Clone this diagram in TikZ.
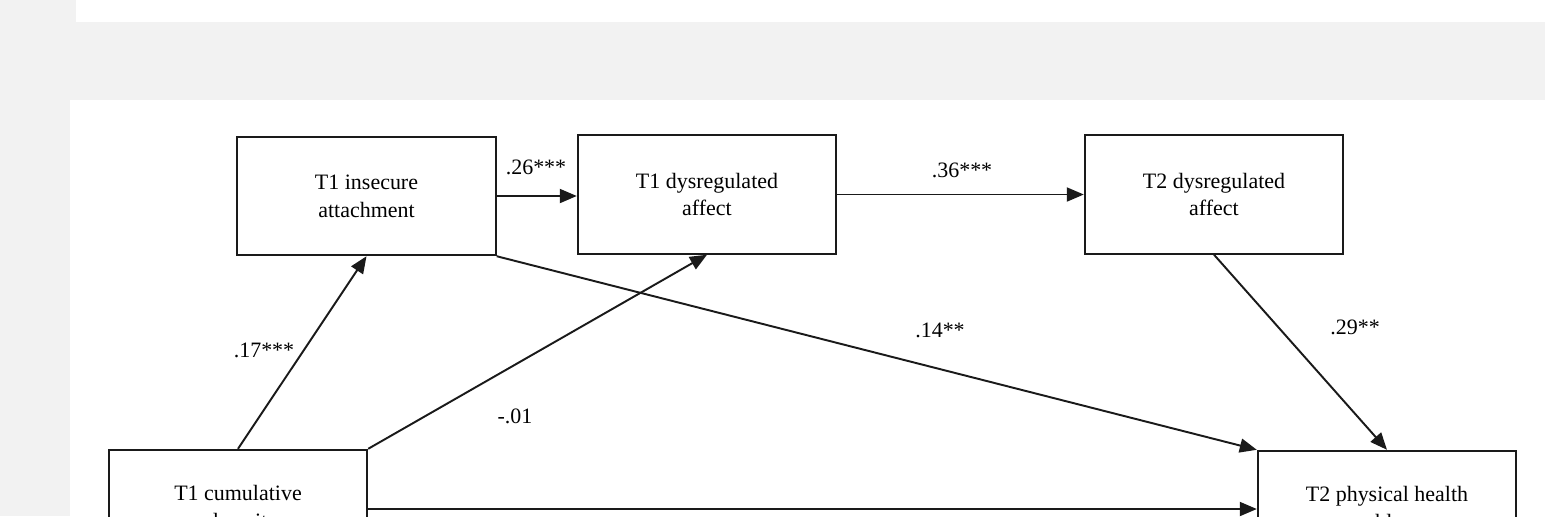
\documentclass[tikz,border=0pt]{standalone}
\usepackage{fontspec}
\setmainfont{Liberation Serif}
\usetikzlibrary{arrows.meta,positioning,calc}
\definecolor{pageGray}{HTML}{F2F2F2}
\definecolor{ink}{HTML}{1A1A1A}

\begin{document}
\begin{tikzpicture}[
  varbox/.style={draw=ink, line width=1.1pt, fill=white, minimum width=5.17cm, minimum height=2.37cm, align=center, font=\fontsize{12.5}{15.8}\selectfont, text=black},
  coef/.style={font=\fontsize{12.5}{15}\selectfont, text=black},
  link/.style={-{Triangle[length=0.34cm, width=0.28cm]}, line width=1.1pt, draw=ink}
]
\clip (0,0) rectangle (30.9,-10.32);

% ------------------------------------------------------------------
% page background
% ------------------------------------------------------------------
\fill[white] (0,0) rectangle (30.9,-10.32);
\fill[pageGray] (0,0) rectangle (1.52,-0.44);
\fill[pageGray] (0,-0.44) rectangle (30.9,-2.0);
\fill[pageGray] (0,-2.0) rectangle (1.4,-10.32);

% ------------------------------------------------------------------
% variables
% ------------------------------------------------------------------
\node[varbox] (att) at (7.33,-3.92) {T1 insecure\\attachment};
\node[varbox] (dys1) at (14.14,-3.89) {T1 dysregulated\\affect};
\node[varbox] (dys2) at (24.28,-3.89) {T2 dysregulated\\affect};
\node[varbox] (cum) at (4.76,-10.18) {T1 cumulative\\adversity};
\node[varbox] (phys) at (27.74,-10.2) {T2 physical health\\problems};

% ------------------------------------------------------------------
% paths
% ------------------------------------------------------------------
\draw[link] (att.east) -- (att.east -| dys1.west);
\draw[link] (dys1.east) -- (dys2.west);
\draw[link] (cum.north) -- (att.south);
\draw[link] (cum.north east) -- (dys1.south);
\draw[link] (att.south east) -- (phys.north west);
\draw[link] (dys2.south) -- (phys.north);
\draw[link] (cum.east) -- (cum.east -| phys.west);

% coefficients
\node[coef] (c26) at (10.72,-3.34) {.26***};
\node[coef] (c36) at (19.24,-3.4) {.36***};
\node[coef] (c17) at (5.28,-7.0) {.17***};
\node[coef] (c01) at (10.3,-8.32) {-.01};
\node[coef] (c14) at (18.8,-6.6) {.14**};
\node[coef] (c29) at (27.1,-6.54) {.29**};

\end{tikzpicture}
\end{document}
